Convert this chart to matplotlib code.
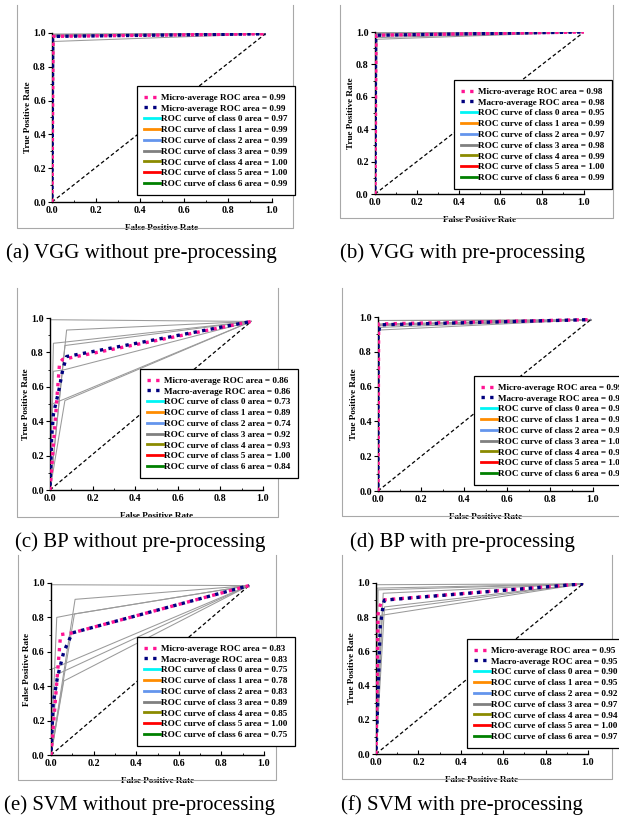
import matplotlib
matplotlib.use('Agg')
import matplotlib.pyplot as plt
from matplotlib.lines import Line2D
from matplotlib.ticker import MultipleLocator

W, H = 619, 821
SERIF = 'Liberation Serif'

CLASS_COLORS = ['#00f5f5', '#ff8c00', '#6495ed', '#808080', '#8b8b00', '#ff0000', '#008000']
MICRO_COLOR = '#ff1493'
MACRO_COLOR = '#00007f'

# ---------------- data ----------------
# (a) VGG without pre-processing
A_END = [0.97, 0.995]
A_MICRO_FPR = [0.0, 0.005]
A_MICRO_TPR = [0.0, 0.98]
A_MACRO_FPR = [0.0, 0.003, 0.01]
A_MACRO_TPR = [0.0, 0.975, 0.98]
A_CLASS_FPR = [[0.01], [0.005], [0.003], [0.004], [0.0], [0.0], [0.006]]
A_CLASS_TPR = [[0.95], [0.985], [0.98], [0.985], [0.995], [1.0], [0.99]]
A_AVG_AUC = [0.99, 0.99]
A_CLASS_AUC = [0.97, 0.99, 0.99, 0.99, 1.00, 1.00, 0.99]

# (b) VGG with pre-processing
B_END = [1.0, 1.0]
B_MICRO_FPR = [0.0, 0.005]
B_MICRO_TPR = [0.0, 0.98]
B_MACRO_FPR = [0.0, 0.003, 0.01]
B_MACRO_TPR = [0.0, 0.975, 0.98]
B_CLASS_FPR = [[0.01], [0.003], [0.005], [0.004], [0.003], [0.0], [0.004]]
B_CLASS_TPR = [[0.955], [0.99], [0.965], [0.975], [0.985], [1.0], [0.99]]
B_AVG_AUC = [0.98, 0.98]
B_CLASS_AUC = [0.95, 0.99, 0.97, 0.98, 0.99, 1.00, 0.99]

# (c) BP without pre-processing
C_END = [0.945, 0.98]
C_MICRO_FPR = [0.0, 0.045, 0.06]
C_MICRO_TPR = [0.0, 0.74, 0.76]
C_MACRO_FPR = [0.0, 0.008, 0.016, 0.023, 0.04, 0.06, 0.078]
C_MACRO_TPR = [0.0, 0.31, 0.44, 0.48, 0.57, 0.70, 0.776]
C_CLASS_FPR = [[0.07], [0.07], [0.01, 0.07], [0.078], [0.016, 0.07], [0.0], [0.016, 0.07]]
C_CLASS_TPR = [[0.52], [0.84], [0.50, 0.53], [0.93], [0.853, 0.86], [0.99], [0.69, 0.70]]
C_AVG_AUC = [0.86, 0.86]
C_CLASS_AUC = [0.73, 0.89, 0.74, 0.92, 0.93, 1.00, 0.84]

# (d) BP with pre-processing
D_END = [0.99, 0.985]
D_MICRO_FPR = [0.0, 0.003]
D_MICRO_TPR = [0.0, 0.96]
D_MACRO_FPR = [0.0, 0.0, 0.01]
D_MACRO_TPR = [0.0, 0.90, 0.955]
D_CLASS_FPR = [[0.005], [0.003], [0.004], [0.0], [0.006], [0.0], [0.002]]
D_CLASS_TPR = [[0.925], [0.96], [0.95], [0.98], [0.94], [0.985], [0.955]]
D_AVG_AUC = [0.99, 0.99]
D_CLASS_AUC = [0.98, 0.99, 0.98, 1.00, 0.98, 1.00, 0.98]

# (e) SVM without pre-processing
E_END = [0.93, 0.985]
E_MICRO_FPR = [0.0, 0.045, 0.1]
E_MICRO_TPR = [0.0, 0.70, 0.71]
E_MACRO_FPR = [0.0, 0.01, 0.03, 0.06, 0.1]
E_MACRO_TPR = [0.0, 0.30, 0.45, 0.60, 0.71]
E_CLASS_FPR = [[0.005], [0.03], [0.11], [0.113], [0.027, 0.11], [0.0], [0.06]]
E_CLASS_TPR = [[0.50], [0.47], [0.82], [0.905], [0.80, 0.82], [0.99], [0.43]]
E_AVG_AUC = [0.83, 0.83]
E_CLASS_AUC = [0.75, 0.78, 0.83, 0.89, 0.85, 1.00, 0.75]

# (f) SVM with pre-processing
F_END = [0.976, 0.995]
F_MICRO_FPR = [0.0, 0.01, 0.02, 0.027]
F_MICRO_TPR = [0.0, 0.82, 0.87, 0.90]
F_MACRO_FPR = [0.0, 0.02, 0.035, 0.04]
F_MACRO_TPR = [0.0, 0.75, 0.88, 0.90]
F_CLASS_FPR = [[0.02], [0.034], [0.03], [0.01], [0.04], [0.0], [0.005]]
F_CLASS_TPR = [[0.81], [0.94], [0.84], [0.96], [0.86], [0.99], [0.97]]
F_AVG_AUC = [0.95, 0.95]
F_CLASS_AUC = [0.90, 0.95, 0.92, 0.97, 0.94, 1.00, 0.97]

CAPTIONS = ['(a) VGG without pre-processing', '(b) VGG with pre-processing',
            '(c) BP without pre-processing', '(d) BP with pre-processing',
            '(e) SVM without pre-processing', '(f) SVM with pre-processing']
YLABELS = ['True Positive Rate', 'True Positive Rate', 'True Positive Rate',
           'True Positive Rate', 'False Positive Rate', 'True Positive Rate']
MACRO_NAMES = ['Micro-average', 'Macro-average', 'Macro-average',
               'Macro-average', 'Macro-average', 'Macro-average']

PANELS = [
    (A_END, A_MICRO_FPR, A_MICRO_TPR, A_MACRO_FPR, A_MACRO_TPR, A_CLASS_FPR, A_CLASS_TPR, A_AVG_AUC, A_CLASS_AUC),
    (B_END, B_MICRO_FPR, B_MICRO_TPR, B_MACRO_FPR, B_MACRO_TPR, B_CLASS_FPR, B_CLASS_TPR, B_AVG_AUC, B_CLASS_AUC),
    (C_END, C_MICRO_FPR, C_MICRO_TPR, C_MACRO_FPR, C_MACRO_TPR, C_CLASS_FPR, C_CLASS_TPR, C_AVG_AUC, C_CLASS_AUC),
    (D_END, D_MICRO_FPR, D_MICRO_TPR, D_MACRO_FPR, D_MACRO_TPR, D_CLASS_FPR, D_CLASS_TPR, D_AVG_AUC, D_CLASS_AUC),
    (E_END, E_MICRO_FPR, E_MICRO_TPR, E_MACRO_FPR, E_MACRO_TPR, E_CLASS_FPR, E_CLASS_TPR, E_AVG_AUC, E_CLASS_AUC),
    (F_END, F_MICRO_FPR, F_MICRO_TPR, F_MACRO_FPR, F_MACRO_TPR, F_CLASS_FPR, F_CLASS_TPR, F_AVG_AUC, F_CLASS_AUC),
]

# ---------------- layout (pixels) ----------------
# axes: x0, x1, y_top, y_bottom
AX_PX = [(52, 272, 33, 202), (375, 584, 32, 194),
         (50, 263, 318, 490), (378, 593, 317, 491),
         (51, 264, 583, 755), (376, 588, 583, 754)]
# frame: left, right, top, bottom
FRAME_PX = [(17, 293, 5, 228), (340, 613, 5, 218),
            (17, 278, 288, 517), (342, 640, 288, 516),
            (18, 276, 555, 780), (342, 612, 555, 779)]
# legend top-left
LEG_PX = [(137, 86), (454, 80), (140, 369), (474, 376), (137, 637), (467, 639)]
CAP_PX = [(141, 258), (462, 258), (140, 547), (462, 547), (140, 810), (462, 810)]


def fx(x):
    return x / W


def fy(y):
    return 1 - y / H


fig = plt.figure(figsize=(W / 100, H / 100), dpi=100)
fig.patch.set_facecolor('white')

DOT = (0, (1, 1.6))
DOT2 = (1.3, (1, 1.6))

for i, pdata in enumerate(PANELS):
    end, mi_f, mi_t, ma_f, ma_t, cl_f, cl_t, avg_auc, cl_auc = pdata
    x0, x1, yt, yb = AX_PX[i]
    ax = fig.add_axes([fx(x0), fy(yb), (x1 - x0) / W, (yb - yt) / H])
    ax.set_xlim(0, 1)
    ax.set_ylim(0, 1)

    # class curves (gray)
    for cf, ct in zip(cl_f, cl_t):
        ax.plot([0.0] + cf + [end[0]], [0.0] + ct + [end[1]],
                color='#9a9a9a', lw=0.75, zorder=2)
    # diagonal
    ax.plot([0, end[0]], [0, end[1]], color='black', lw=0.9,
            linestyle=(0, (3, 2)), zorder=3)
    # averages
    ax.plot(mi_f + [end[0]], mi_t + [end[1]], color=MICRO_COLOR, lw=2.4,
            linestyle=DOT, zorder=4)
    ax.plot(ma_f + [end[0]], ma_t + [end[1]], color=MACRO_COLOR, lw=2.4,
            linestyle=DOT2, zorder=5)

    for s in ['top', 'right']:
        ax.spines[s].set_visible(False)
    for s in ['left', 'bottom']:
        ax.spines[s].set_linewidth(1.0)
    ax.xaxis.set_major_locator(MultipleLocator(0.2))
    ax.xaxis.set_minor_locator(MultipleLocator(0.1))
    ax.yaxis.set_major_locator(MultipleLocator(0.2))
    ax.yaxis.set_minor_locator(MultipleLocator(0.1))
    ax.tick_params(axis='x', which='both', direction='in', pad=3)
    ax.tick_params(axis='y', which='both', direction='out', pad=1.5)
    ax.tick_params(which='major', length=3, width=0.8)
    ax.tick_params(which='minor', length=1.8, width=0.6)
    for lab in ax.get_xticklabels() + ax.get_yticklabels():
        lab.set_fontfamily(SERIF)
        lab.set_fontweight('bold')
        lab.set_fontsize(7.2)
    ax.set_xlabel('False Positive Rate', fontfamily=SERIF, fontweight='bold',
                  fontsize=6.6, labelpad=6.5)
    ax.set_ylabel(YLABELS[i], fontfamily=SERIF, fontweight='bold',
                  fontsize=6.6, labelpad=1)

    # legend
    handles = [Line2D([], [], color=MICRO_COLOR, lw=2.4, linestyle=DOT),
               Line2D([], [], color=MACRO_COLOR, lw=2.4, linestyle=DOT)]
    labels = ['Micro-average ROC area = %.2f' % avg_auc[0],
              '%s ROC area = %.2f' % (MACRO_NAMES[i], avg_auc[1])]
    for k, auc in enumerate(cl_auc):
        handles.append(Line2D([], [], color=CLASS_COLORS[k], lw=2))
        labels.append('ROC curve of class %d area = %.2f' % (k, auc))
    lx, ly = LEG_PX[i]
    leg = fig.legend(handles, labels, loc='upper left',
                     bbox_to_anchor=(fx(lx), fy(ly)),
                     bbox_transform=fig.transFigure, borderaxespad=0,
                     prop={'family': SERIF, 'weight': 'bold', 'size': 6.6},
                     handlelength=1.7, handletextpad=0.15, labelspacing=0.26,
                     borderpad=0.8, fancybox=False, framealpha=1,
                     edgecolor='black')
    leg.get_frame().set_linewidth(0.9)
    leg.set_zorder(10)

    # panel frame (gray)
    fl, fr, ft, fb = FRAME_PX[i]
    fig.add_artist(Line2D([fx(fl), fx(fl), fx(fr), fx(fr)],
                          [fy(ft), fy(fb), fy(fb), fy(ft)],
                          transform=fig.transFigure, color='#a8a8a8', lw=0.8))

    cx, cy = CAP_PX[i]
    fig.text(fx(cx), fy(cy), CAPTIONS[i], ha='center', va='baseline',
             fontfamily=SERIF, fontsize=15)

fig.savefig('out.png', dpi=100, facecolor='white')
